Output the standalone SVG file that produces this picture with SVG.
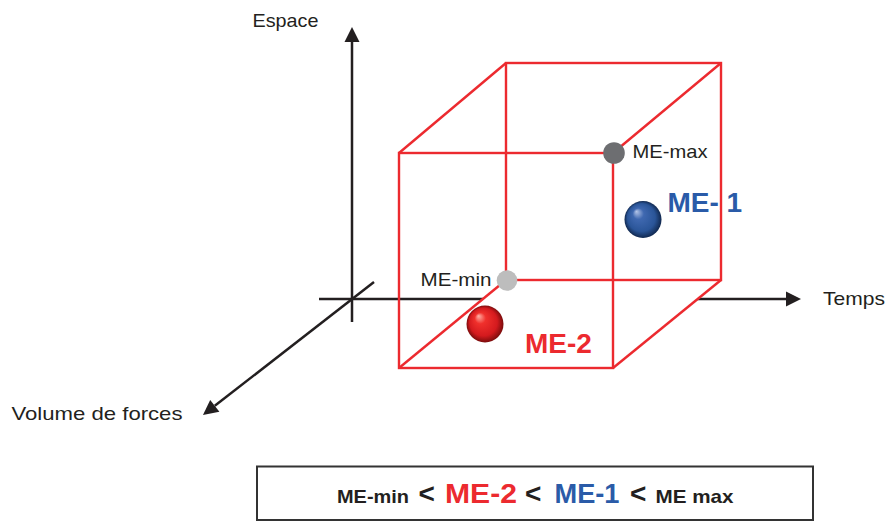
<svg xmlns="http://www.w3.org/2000/svg" width="889" height="522" viewBox="0 0 889 522">
<style>
.axis{stroke:#231f20;stroke-width:2.5;fill:none}
.edge{stroke:#ec2a2f;stroke-width:2.4;fill:none}
.lbl{font-family:"Liberation Sans",Arial,sans-serif;font-size:19px;fill:#231f20}
.big{font-family:"Liberation Sans",Arial,sans-serif;font-weight:bold;font-size:28px}
.sm{font-family:"Liberation Sans",Arial,sans-serif;font-weight:bold;font-size:19px;fill:#231f20}
.lt{font-family:"Liberation Sans",Arial,sans-serif;font-weight:bold;font-size:28px;fill:#231f20}
.red{fill:#ec2a2f}
.blue{fill:#2a5ba8}
</style>
<defs>
<marker id="arr" markerUnits="userSpaceOnUse" markerWidth="16" markerHeight="16" viewBox="0 -8 16 16" refX="0" refY="0" orient="auto" overflow="visible">
<path d="M0,-7.5 L15,0 L0,7.5 z" fill="#231f20"/>
</marker>
<radialGradient id="gRed" cx="0.5" cy="0.5" r="0.5" fx="0.32" fy="0.28">
<stop offset="0" stop-color="#ffb3a8"/>
<stop offset="0.3" stop-color="#f0302c"/>
<stop offset="0.75" stop-color="#d41a1e"/>
<stop offset="1" stop-color="#7a0c0c"/>
</radialGradient>
<radialGradient id="gBlue" cx="0.5" cy="0.5" r="0.5" fx="0.32" fy="0.28">
<stop offset="0" stop-color="#b5c6e8"/>
<stop offset="0.3" stop-color="#3f68b0"/>
<stop offset="0.75" stop-color="#2a5598"/>
<stop offset="1" stop-color="#10284f"/>
</radialGradient>
</defs>
<g id="connectors">
<line class="axis" x1="352" y1="322" x2="352" y2="42" marker-end="url(#arr)"/>
<line class="axis" x1="319" y1="299" x2="786" y2="299" marker-end="url(#arr)"/>
<line class="axis" x1="374" y1="282" x2="214.8" y2="405.8" marker-end="url(#arr)"/>
</g>
<g id="cube">
<polygon points="399,368 613,368 721,280 506,280" fill="#ffffff" stroke="none"/>
<rect class="edge" x="506" y="63" width="215" height="217"/>
<rect class="edge" x="399" y="153" width="214" height="215"/>
<line class="edge" x1="399" y1="153" x2="506" y2="63"/>
<line class="edge" x1="613" y1="153" x2="721" y2="63"/>
<line class="edge" x1="399" y1="368" x2="506" y2="280"/>
<line class="edge" x1="613" y1="368" x2="721" y2="280"/>
</g>
<g id="me-2">
<circle cx="485" cy="324" r="18.5" fill="url(#gRed)"/>
<text class="big red" x="525" y="353.3">ME-2</text>
</g>
<g id="me-1">
<circle cx="643" cy="219.5" r="18.5" fill="url(#gBlue)"/>
<text class="big blue" x="667.5" y="211.7">ME- 1</text>
</g>
<g id="me-max">
<circle cx="614" cy="153" r="10.8" fill="#6d6e71"/>
<text class="lbl" x="632.5" y="158.3" textLength="75" lengthAdjust="spacingAndGlyphs">ME-max</text>
</g>
<g id="me-min">
<circle cx="507" cy="280.5" r="10.3" fill="#bdbdbd"/>
<text class="lbl" x="420.5" y="286" textLength="71" lengthAdjust="spacingAndGlyphs">ME-min</text>
</g>
<g id="axis-labels">
<text class="lbl" x="252.5" y="26.7" textLength="66" lengthAdjust="spacingAndGlyphs">Espace</text>
<text class="lbl" x="823" y="305" textLength="62" lengthAdjust="spacingAndGlyphs">Temps</text>
<text class="lbl" x="11.5" y="420" textLength="171" lengthAdjust="spacingAndGlyphs">Volume de forces</text>
</g>
<g id="legend">
<rect x="257" y="466.5" width="556" height="53.5" fill="#ffffff" stroke="#333333" stroke-width="2"/>
<text class="sm" x="337" y="503.3" textLength="72" lengthAdjust="spacingAndGlyphs">ME-min</text>
<text class="lt" x="418.5" y="503.3">&lt;</text>
<text class="big red" x="445" y="503.3" font-size="29" textLength="72" lengthAdjust="spacingAndGlyphs">ME-2</text>
<text class="lt" x="525" y="503.3">&lt;</text>
<text class="big blue" x="554.5" y="503.3" textLength="65" lengthAdjust="spacingAndGlyphs">ME-1</text>
<text class="lt" x="630" y="503.3">&lt;</text>
<text class="sm" x="655.5" y="503.3" font-size="20" textLength="78" lengthAdjust="spacingAndGlyphs">ME max</text>
</g>
</svg>
